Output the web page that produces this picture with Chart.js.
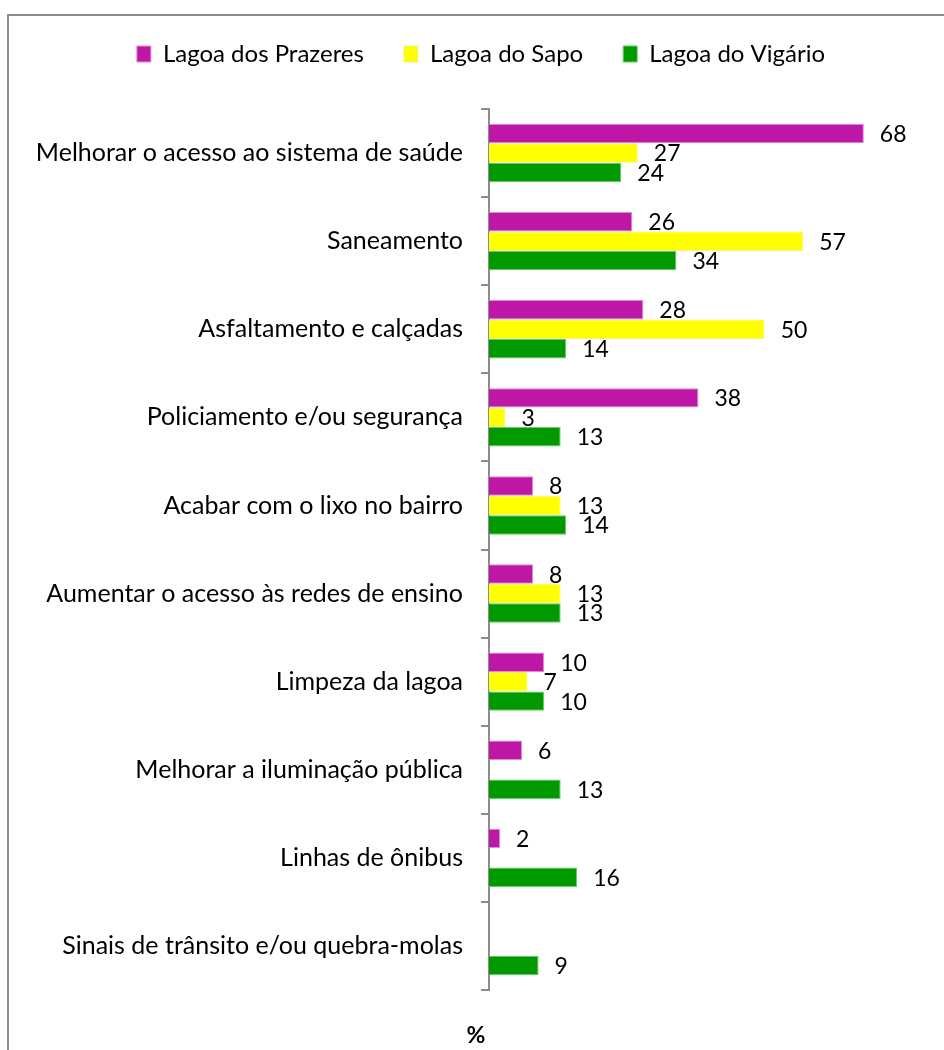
<!DOCTYPE html>
<html>
<head>
<meta charset="utf-8">
<script src="https://cdn.jsdelivr.net/npm/chart.js@4.4.1/dist/chart.umd.min.js"></script>
<style>
  html, body { margin: 0; padding: 0; background: #fff; overflow: hidden; }
  #frame {
    position: absolute; left: 7px; top: 14px; width: 1000px; height: 1100px;
    border: 2px solid #8c8c8c; box-sizing: border-box;
  }
  #wrap { position: absolute; left: 0; top: 0; width: 944px; height: 1050px; }
</style>
</head>
<body>
<div id="frame"></div>
<div id="wrap"><canvas id="chart"></canvas></div>
<script>
// categories and values (%)
const categories = [
  'Melhorar o acesso ao sistema de saúde',
  'Saneamento',
  'Asfaltamento e calçadas',
  'Policiamento e/ou segurança',
  'Acabar com o lixo no bairro',
  'Aumentar o acesso às redes de ensino',
  'Limpeza da lagoa',
  'Melhorar a iluminação pública',
  'Linhas de ônibus',
  'Sinais de trânsito e/ou quebra-molas'
];
const prazeres = [68, 26, 28, 38, 8, 8, 10, 6, 2, null];
const sapo     = [27, 57, 50, 3, 13, 13, 7, null, null, null];
const vigario  = [24, 34, 14, 13, 14, 13, 10, 13, 16, 9];

const FONT = 'Lato, "Open Sans", sans-serif';
const PAD_LEFT = 32;

// value labels to the right of each bar + the "%" title
const valueLabels = {
  id: 'valueLabels',
  afterDatasetsDraw(chart) {
    const ctx = chart.ctx;
    ctx.save();
    ctx.font = '23px ' + FONT;
    ctx.fillStyle = '#000';
    ctx.textAlign = 'left';
    ctx.textBaseline = 'middle';
    chart.data.datasets.forEach((ds, i) => {
      const meta = chart.getDatasetMeta(i);
      meta.data.forEach((bar, j) => {
        const v = ds.data[j];
        if (v === null || v === undefined) return;
        ctx.fillText(String(v), bar.x + 16, bar.y + 1);
      });
    });
    const xs = chart.scales.x;
    ctx.font = 'bold 23px ' + FONT;
    ctx.textAlign = 'center';
    ctx.fillText('%', xs.left - 13, 1036);
    ctx.restore();
  }
};

// push the plot area down below the legend
const legendSpace = {
  id: 'legendSpace',
  beforeInit(chart) {
    const fit = chart.legend.fit;
    chart.legend.fit = function () {
      fit.bind(chart.legend)();
      this.height = 107;
    };
  }
};

new Chart(document.getElementById('chart'), {
  type: 'bar',
  data: {
    labels: categories,
    datasets: [
      { label: 'Lagoa dos Prazeres', data: prazeres, backgroundColor: '#bf17a5', borderColor: '#e08ad2', borderWidth: 1 },
      { label: 'Lagoa do Sapo', data: sapo, backgroundColor: '#ffff00', borderColor: '#f2f28a', borderWidth: 1 },
      { label: 'Lagoa do Vigário', data: vigario, backgroundColor: '#009900', borderColor: '#66cc66', borderWidth: 1 }
    ]
  },
  options: {
    indexAxis: 'y',
    responsive: true,
    maintainAspectRatio: false,
    animation: false,
    datasets: { bar: { categoryPercentage: 0.663, barPercentage: 1.0 } },
    layout: { padding: { top: 2, right: 14, bottom: 60, left: PAD_LEFT } },
    scales: {
      x: { display: false, min: 0, max: 80 },
      y: {
        grid: { display: true, drawOnChartArea: false, offset: true, tickLength: 8, color: '#8c8c8c', lineWidth: 2 },
        border: { display: true, color: '#8c8c8c', width: 2 },
        ticks: { color: '#000', font: { family: FONT, size: 25 }, padding: 18, autoSkip: false },
        afterFit(axis) { axis.width = 489 - PAD_LEFT; }
      }
    },
    plugins: {
      legend: {
        position: 'top',
        labels: {
          color: '#000',
          font: { family: FONT, size: 24 },
          boxWidth: 14,
          boxHeight: 16,
          padding: 40
        }
      },
      tooltip: { enabled: false }
    }
  },
  plugins: [valueLabels, legendSpace]
});
</script>
</body>
</html>
